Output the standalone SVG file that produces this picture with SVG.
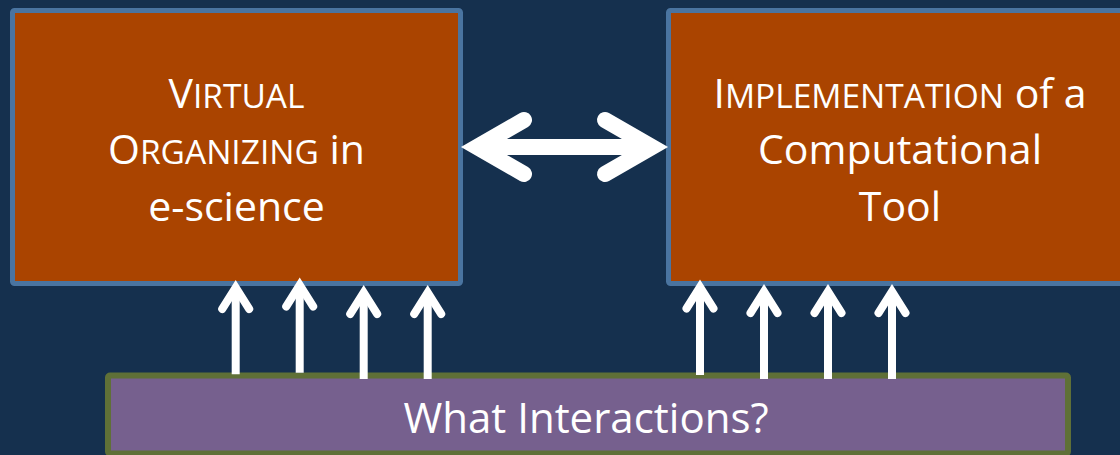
<svg xmlns="http://www.w3.org/2000/svg" width="1120" height="455" viewBox="0 0 1120 455">
<style>
.box{fill:#aa4400;stroke:#4a74a0;stroke-width:5}
.q{fill:#76608e;stroke:#5f7037;stroke-width:6}
.t{font-family:"Open Sans","Liberation Sans",sans-serif;fill:#ffffff;text-anchor:middle}
.sc{font-size:33.5px}
.shaft{stroke:#ffffff;fill:none;stroke-linecap:butt}
.head{stroke:#ffffff;fill:none;stroke-linecap:round;stroke-linejoin:miter;stroke-miterlimit:10}
</style>
<rect x="0" y="0" width="1120" height="455" fill="#15304e"/>
<g id="node-virtual">
<rect class="box" x="12.5" y="10.5" width="448" height="273" rx="2"/>
<text class="t" font-size="41"><tspan x="236.5" y="108">V<tspan class="sc">IRTUAL</tspan></tspan><tspan x="236.5" y="164">O<tspan class="sc">RGANIZING</tspan> in</tspan><tspan x="236.5" y="221">e-science</tspan></text>
</g>
<g id="node-implementation">
<rect class="box" x="668.5" y="10.5" width="463" height="273" rx="2"/>
<text class="t" font-size="41"><tspan x="900" y="108">I<tspan class="sc">MPLEMENTATION</tspan> of a</tspan><tspan x="900" y="164">Computational</tspan><tspan x="900" y="221">Tool</tspan></text>
</g>
<g id="node-interactions">
<rect class="q" x="108" y="375.5" width="960" height="78" rx="2"/>
<text class="t" font-size="42" x="586" y="433">What Interactions?</text>
</g>
<g id="connectors">
<g id="double-arrow">
<line class="shaft" x1="477" y1="147" x2="652" y2="147" stroke-width="16"/>
<path class="head" stroke-width="16" d="M524,120 L477,147 L524,174"/>
<path class="head" stroke-width="16" d="M605,120 L652,147 L605,174"/>
</g>
<g id="up-arrows">
<line class="shaft" stroke-width="8" x1="235.7" y1="374.3" x2="235.7" y2="288"/>
<path class="head" stroke-width="8" d="M222.2,309 L235.7,287.5 L249.2,309"/>
<line class="shaft" stroke-width="8" x1="299.7" y1="372.7" x2="299.7" y2="286"/>
<path class="head" stroke-width="8" d="M286.2,306.5 L299.7,285 L313.2,306.5"/>
<line class="shaft" stroke-width="8" x1="363.7" y1="379" x2="363.7" y2="293"/>
<path class="head" stroke-width="8" d="M350.2,314 L363.7,292.5 L377.2,314"/>
<line class="shaft" stroke-width="8" x1="427.7" y1="379" x2="427.7" y2="293"/>
<path class="head" stroke-width="8" d="M414.2,314 L427.7,292.5 L441.2,314"/>
<line class="shaft" stroke-width="8" x1="700" y1="375" x2="700" y2="288"/>
<path class="head" stroke-width="8" d="M686.5,308.5 L700,287 L713.5,308.5"/>
<line class="shaft" stroke-width="8" x1="764" y1="379" x2="764" y2="292"/>
<path class="head" stroke-width="8" d="M750.5,313 L764,291.5 L777.5,313"/>
<line class="shaft" stroke-width="8" x1="828" y1="379" x2="828" y2="292"/>
<path class="head" stroke-width="8" d="M814.5,313 L828,291.5 L841.5,313"/>
<line class="shaft" stroke-width="8" x1="892" y1="379" x2="892" y2="292"/>
<path class="head" stroke-width="8" d="M878.5,313 L892,291.5 L905.5,313"/>
</g>
</g>
</svg>
